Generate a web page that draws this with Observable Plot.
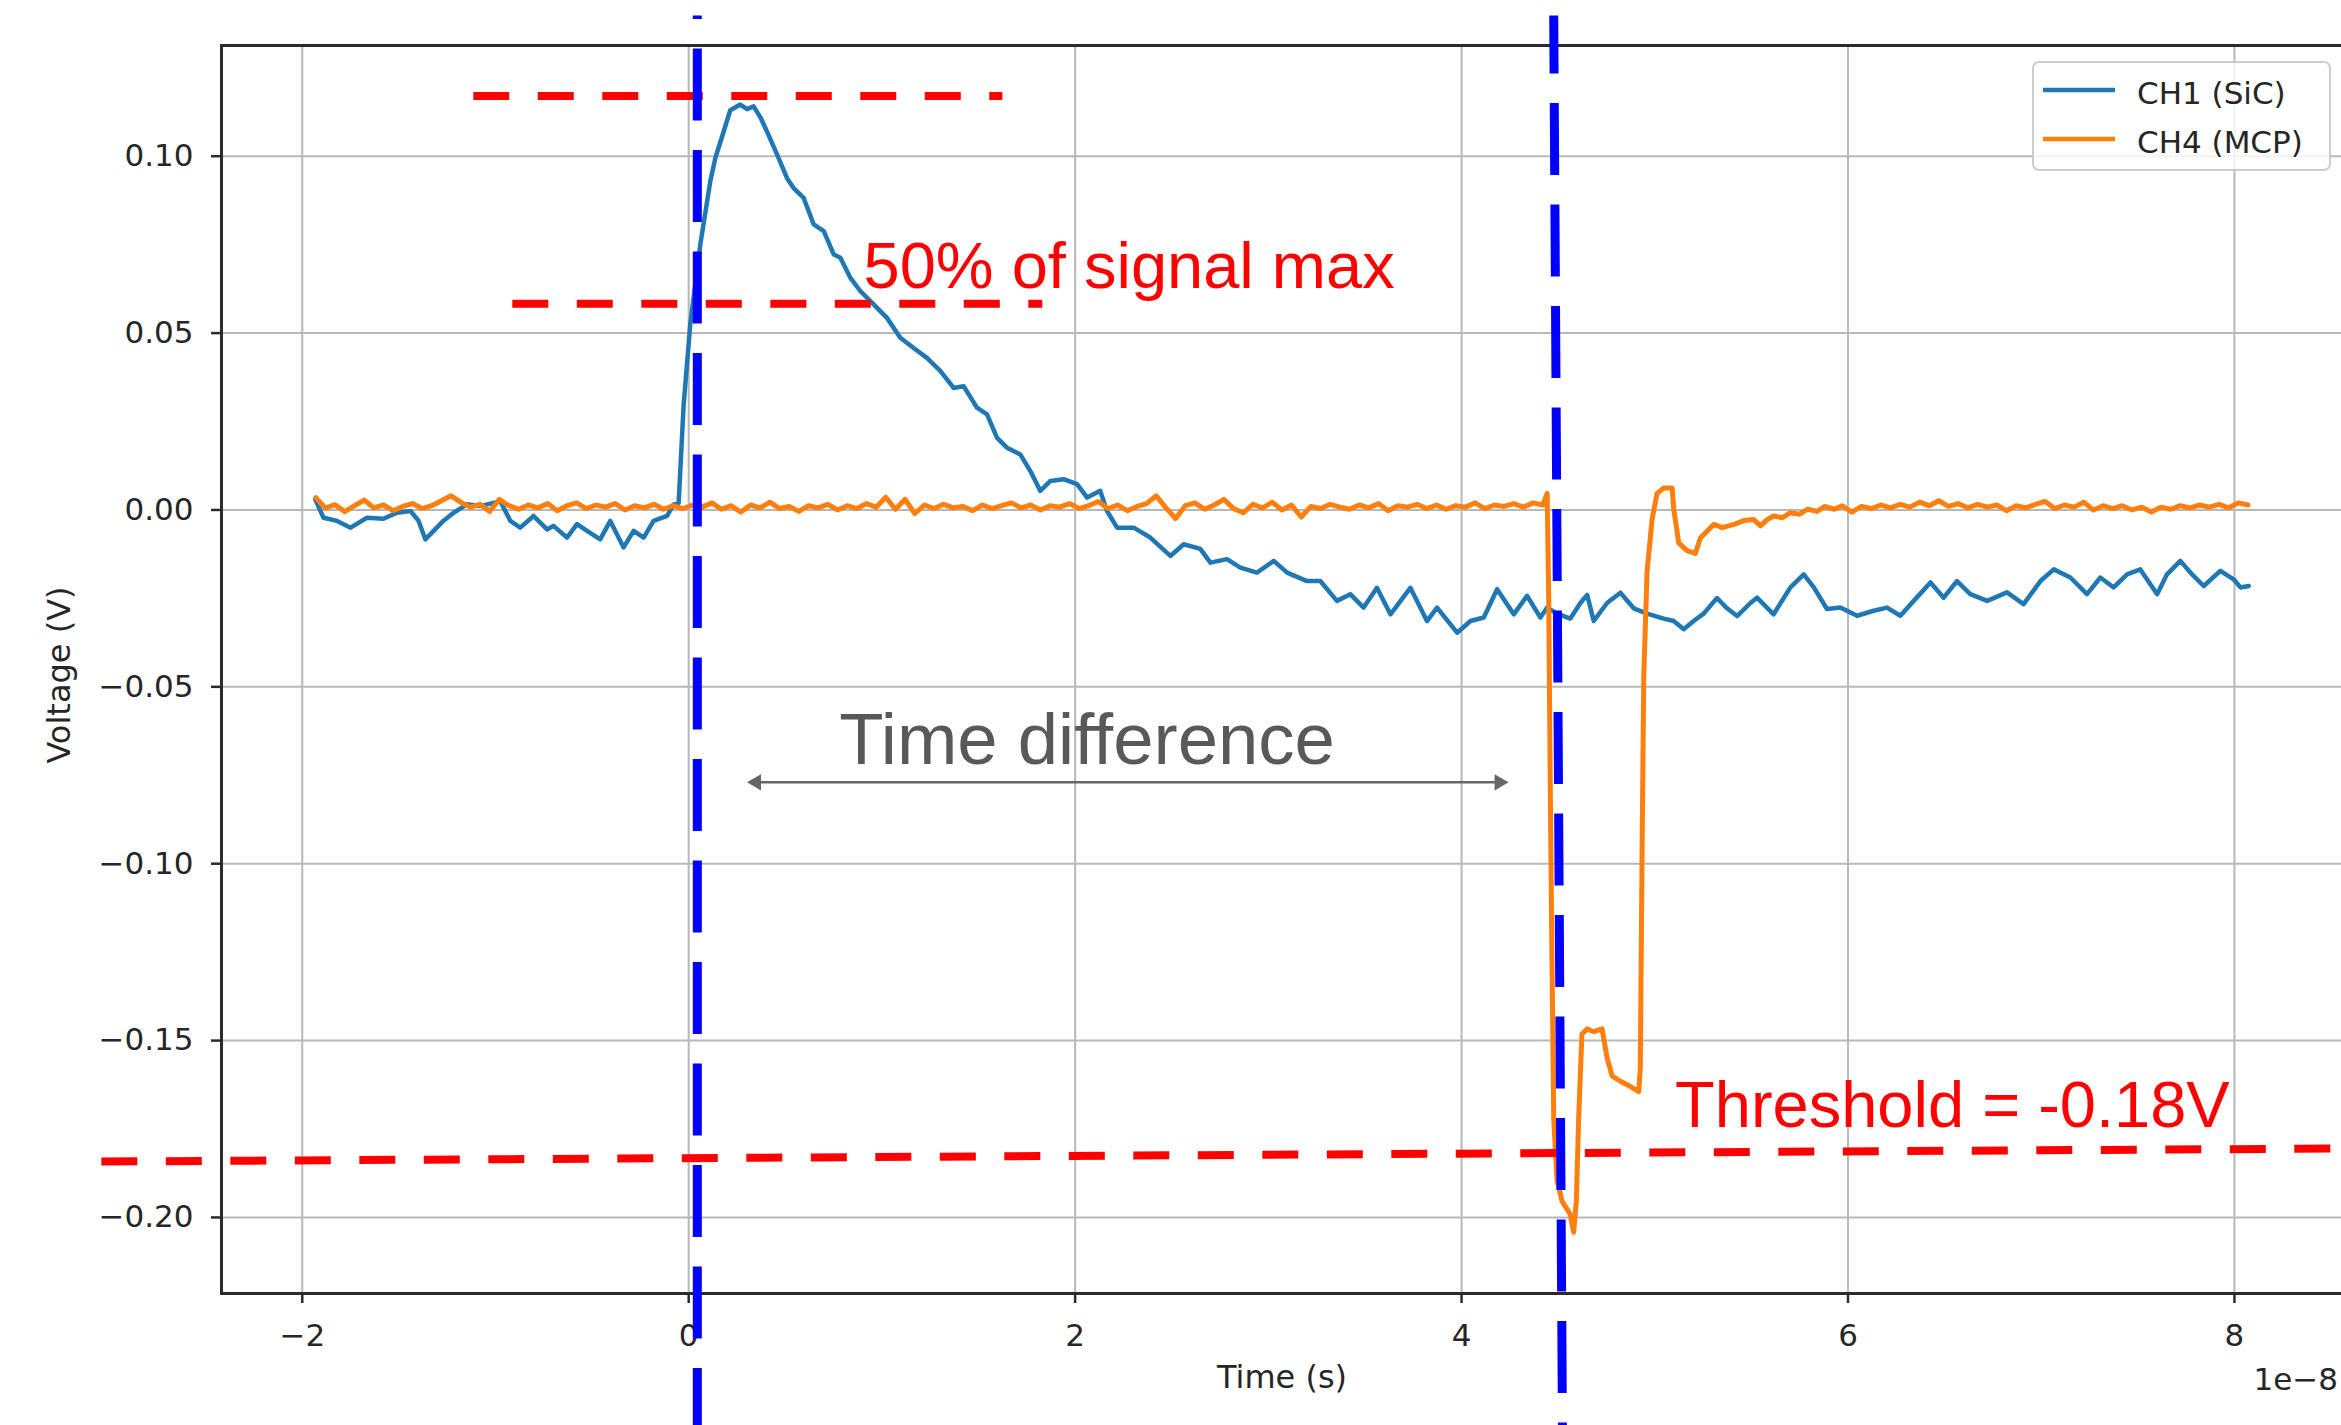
<!DOCTYPE html>
<html><head><meta charset="utf-8">
<script src="https://cdn.jsdelivr.net/npm/d3@7"></script>
<script src="https://cdn.jsdelivr.net/npm/@observablehq/plot@0.6"></script>
<style>
html,body{margin:0;padding:0;background:#fff;overflow:hidden;width:2341px;height:1425px}
#chart svg{display:block}
</style></head><body><div id="chart"></div>
<script>
// ---- data (time in units of 1e-8 s, voltage in V) ----
const seriesNames = ["CH1 (SiC)", "CH4 (MCP)"];
const seriesColors = ["#1f77b4", "#ff7f0e"];
const xTicks = [-2, 0, 2, 4, 6, 8];
const yTicks = [-0.20, -0.15, -0.10, -0.05, 0.00, 0.05, 0.10];

const sicTrace = [
[-1.933,0.003],[-1.89,-0.0022],[-1.82,-0.0031],[-1.75,-0.005],[-1.665,-0.0022],[-1.58,-0.0025],[-1.51,-0.0008],[-1.44,-0.0003],
[-1.398,-0.0031],[-1.363,-0.0083],[-1.32,-0.0059],[-1.27,-0.0031],[-1.217,-0.0008],[-1.148,0.0016],[-1.079,0.0011],[-0.975,0.0025],
[-0.923,-0.0031],[-0.872,-0.005],[-0.803,-0.0017],[-0.733,-0.0055],[-0.70,-0.0045],[-0.63,-0.0078],[-0.578,-0.004],[-0.526,-0.0059],
[-0.458,-0.0083],[-0.406,-0.0031],[-0.337,-0.0106],[-0.285,-0.0059],[-0.233,-0.0078],[-0.182,-0.0031],[-0.112,-0.0017],[-0.078,0.0016],
[-0.052,0.002],[-0.026,0.0299],[0.008,0.0524],[0.06,0.075],[0.112,0.093],[0.138,0.0995],[0.181,0.107],[0.215,0.113],
[0.267,0.1146],[0.302,0.1133],[0.336,0.1141],[0.371,0.111],[0.405,0.107],[0.457,0.1005],[0.509,0.0938],[0.543,0.091],
[0.595,0.0882],[0.647,0.0807],[0.699,0.0788],[0.751,0.0722],[0.785,0.0713],[0.837,0.0656],[0.888,0.0619],[0.957,0.0581],
[1.026,0.0543],[1.095,0.0487],[1.164,0.0458],[1.233,0.043],[1.302,0.0393],[1.371,0.0345],[1.423,0.035],[1.492,0.0289],
[1.544,0.027],[1.596,0.0204],[1.647,0.0176],[1.716,0.0157],[1.768,0.011],[1.82,0.0054],[1.872,0.0082],[1.94,0.0087],
[2.01,0.0073],[2.062,0.0035],[2.13,0.0054],[2.165,-0.0003],[2.217,-0.005],[2.303,-0.005],[2.389,-0.0078],[2.493,-0.013],
[2.562,-0.0097],[2.648,-0.011],[2.70,-0.0149],[2.786,-0.0139],[2.855,-0.0163],[2.941,-0.0177],[3.028,-0.0144],[3.097,-0.0177],
[3.20,-0.0201],[3.269,-0.0201],[3.355,-0.0257],[3.424,-0.0238],[3.493,-0.0276],[3.562,-0.022],[3.632,-0.0295],[3.735,-0.022],
[3.821,-0.0314],[3.873,-0.0276],[3.977,-0.0347],[4.046,-0.0314],[4.115,-0.0304],[4.184,-0.0224],[4.27,-0.0295],[4.339,-0.0243],
[4.408,-0.0304],[4.443,-0.0276],[4.494,-0.0293],[4.563,-0.0307],[4.615,-0.0263],[4.65,-0.024],[4.684,-0.0314],[4.753,-0.0263],
[4.822,-0.0234],[4.891,-0.0278],[4.96,-0.0293],[5.046,-0.0307],[5.098,-0.0314],[5.15,-0.0337],[5.201,-0.0314],[5.253,-0.0293],
[5.322,-0.0249],[5.374,-0.0278],[5.426,-0.03],[5.495,-0.0263],[5.529,-0.0248],[5.615,-0.0295],[5.702,-0.0219],[5.771,-0.0182],
[5.823,-0.0219],[5.891,-0.028],[5.96,-0.0276],[6.047,-0.0299],[6.133,-0.0285],[6.202,-0.0276],[6.271,-0.0299],[6.34,-0.0257],
[6.427,-0.0205],[6.495,-0.0248],[6.564,-0.0201],[6.633,-0.0238],[6.72,-0.0257],[6.823,-0.0233],[6.909,-0.0266],[6.996,-0.0201],
[7.065,-0.0168],[7.151,-0.0191],[7.237,-0.0238],[7.306,-0.0191],[7.375,-0.0219],[7.444,-0.0182],[7.513,-0.0168],[7.6,-0.0238],
[7.651,-0.0182],[7.72,-0.0144],[7.772,-0.0177],[7.841,-0.0215],[7.927,-0.0172],[7.996,-0.0196],[8.031,-0.0219],[8.074,-0.0215]
];

const mcpTrace = [
[-1.93,0.0035],[-1.88,0.0005],[-1.83,0.0015],[-1.78,-0.0005],[-1.73,0.0012],[-1.68,0.0028],[-1.63,0.0006],[-1.58,0.0014],
[-1.53,-0.0002],[-1.48,0.0010],[-1.43,0.0018],[-1.38,0.0004],[-1.33,0.0012],[-1.28,0.0026],[-1.23,0.0040],[-1.18,0.0022],
[-1.13,0.0008],[-1.08,0.0016],[-1.03,-0.0004],[-0.98,0.0030],[-0.93,0.0012],[-0.88,0.0002],[-0.83,0.0014],[-0.78,0.0006],
[-0.73,0.0018],[-0.68,-0.0002],[-0.63,0.0012],[-0.58,0.0020],[-0.53,0.0004],[-0.48,0.0014],[-0.43,0.0008],[-0.38,0.0018],
[-0.33,0.0000],[-0.28,0.0012],[-0.23,0.0006],[-0.18,0.0016],[-0.13,0.0002],[-0.08,0.0012],[-0.03,0.0004],[0.02,0.0014],
[0.07,0.0008],[0.12,0.0020],[0.17,0.0002],[0.22,0.0012],[0.27,-0.0006],[0.32,0.0014],[0.37,0.0006],[0.42,0.0022],
[0.47,0.0004],[0.52,0.0010],[0.57,-0.0004],[0.62,0.0012],[0.67,0.0006],[0.72,0.0016],[0.77,0.0000],[0.82,0.0012],
[0.87,0.0004],[0.92,0.0018],[0.97,0.0008],[1.02,0.0036],[1.07,0.0002],[1.12,0.0030],[1.17,-0.0010],[1.22,0.0014],
[1.27,0.0004],[1.32,0.0016],[1.37,0.0006],[1.42,0.0010],[1.47,-0.0002],[1.52,0.0014],[1.57,0.0004],[1.62,0.0012],
[1.67,0.0020],[1.72,0.0006],[1.77,0.0014],[1.82,0.0000],[1.87,0.0012],[1.92,0.0008],[1.97,0.0018],[2.02,0.0004],
[2.07,0.0012],[2.12,0.0024],[2.17,0.0004],[2.22,0.0014],[2.27,-0.0002],[2.32,0.0010],[2.37,0.0018],[2.42,0.0040],
[2.47,0.0006],[2.52,-0.0024],[2.57,0.0012],[2.62,0.0020],[2.67,0.0002],[2.72,0.0014],[2.77,0.0030],[2.82,0.0004],
[2.87,-0.0008],[2.92,0.0016],[2.97,0.0006],[3.02,0.0022],[3.07,0.0000],[3.12,0.0014],[3.17,-0.0020],[3.22,0.0010],
[3.27,0.0004],[3.32,0.0016],[3.37,0.0008],[3.42,0.0002],[3.47,0.0014],[3.52,0.0006],[3.57,0.0018],[3.62,-0.0002],
[3.67,0.0012],[3.72,0.0008],[3.77,0.0016],[3.82,0.0004],[3.87,0.0014],[3.92,0.0002],[3.97,0.0012],[4.02,0.0008],
[4.07,0.0020],[4.12,0.0004],[4.17,0.0014],[4.22,0.0010],[4.27,0.0018],[4.32,0.0008],[4.37,0.0020],[4.42,0.0014],
[4.443,0.0047],[4.451,-0.0248],[4.46,-0.0839],[4.468,-0.1277],[4.477,-0.172],[4.494,-0.1895],[4.52,-0.1954],[4.563,-0.1992],
[4.58,-0.2042],[4.594,-0.1954],[4.606,-0.172],[4.623,-0.1482],[4.649,-0.1467],[4.684,-0.1475],[4.727,-0.1467],[4.753,-0.1548],
[4.779,-0.16],[4.822,-0.1615],[4.874,-0.163],[4.917,-0.1644],[4.925,-0.1578],[4.934,-0.0987],[4.943,-0.047],[4.96,-0.0175],
[4.986,-0.0027],[5.012,0.0047],[5.046,0.0062],[5.09,0.0062],[5.098,0.0003],[5.124,-0.0093],[5.167,-0.0115],[5.21,-0.0123],
[5.236,-0.0079],[5.305,-0.0041],[5.35,-0.0050],[5.409,-0.0041],[5.46,-0.0030],[5.512,-0.0027],[5.547,-0.0045],[5.58,-0.0028],
[5.615,-0.0017],[5.66,-0.0022],[5.70,-0.0008],[5.75,-0.0012],[5.79,0.0002],[5.84,-0.0004],[5.88,0.0010],[5.93,0.0002],
[5.97,0.0012],[6.02,-0.0006],[6.07,0.0010],[6.12,0.0004],[6.17,0.0014],[6.22,0.0006],[6.27,0.0016],[6.32,0.0008],
[6.37,0.0022],[6.42,0.0012],[6.47,0.0026],[6.52,0.0010],[6.57,0.0018],[6.62,0.0006],[6.67,0.0016],[6.72,0.0008],
[6.77,0.0014],[6.82,-0.0002],[6.87,0.0012],[6.92,0.0006],[6.97,0.0016],[7.02,0.0024],[7.07,0.0004],[7.12,0.0014],
[7.17,0.0008],[7.22,0.0022],[7.27,0.0000],[7.32,0.0012],[7.37,0.0004],[7.42,0.0012],[7.47,0.0000],[7.52,0.0008],
[7.57,-0.0006],[7.62,0.0008],[7.67,0.0002],[7.72,0.0012],[7.77,0.0006],[7.82,0.0014],[7.87,0.0008],[7.92,0.0016],
[7.97,0.0006],[8.02,0.0020],[8.07,0.0014]
];

// ---- overlaid annotations (data units) ----
const redGuides = [
  {x1: -1.115, y1: 0.1170, x2: 1.623, y2: 0.1170},
  {x1: -0.913, y1: 0.0583, x2: 1.830, y2: 0.0583},
  {x1: -3.040, y1: -0.1842, x2: 8.58, y2: -0.1805}
];
const blueGuideLeft = [{x1: 0.0445, y1: 0.1398, x2: 0.0445, y2: -0.2588}];
const blueGuideRight = [{x1: 4.477, y1: 0.1398, x2: 4.522, y2: -0.2588}];
const redNotes = [
  {x: 0.905, y: 0.0627, text: "50% of signal max"},
  {x: 5.105, y: -0.1743, text: "Threshold = -0.18V"}
];
const grayNotes = [{x: 0.779, y: -0.0719, text: "Time difference"}];
const arrowSpan = [{x1: 0.33, x2: 4.215, y: -0.0770}];
const arrowHeads = [{x: 0.35, y: -0.0770, rot: -90}, {x: 4.195, y: -0.0770, rot: 90}];

const W = 2350, H = 1425;
const axisInk = "#2b2b2b", textInk = "#262626";

const plot = Plot.plot({
  width: W, height: H,
  marginLeft: 221, marginRight: 4, marginTop: 45, marginBottom: 132,
  x: {domain: [-2.418, 8.58], label: null},
  y: {domain: [-0.2215, 0.1313], label: null},
  style: {fontFamily: "DejaVu Sans", fontSize: "31px", color: textInk, background: "white", maxWidth: "none"},
  marks: [
    Plot.gridX(xTicks, {stroke: "#b8b8b8", strokeOpacity: 1, strokeWidth: 2}),
    Plot.gridY(yTicks, {stroke: "#b8b8b8", strokeOpacity: 1, strokeWidth: 2}),
    Plot.line(sicTrace, {x: d => d[0], y: d => d[1], stroke: seriesColors[0], strokeWidth: 4.5}),
    Plot.line(mcpTrace, {x: d => d[0], y: d => d[1], stroke: seriesColors[1], strokeWidth: 5}),
    Plot.frame({stroke: axisInk, strokeWidth: 3}),
    Plot.axisX({ticks: xTicks, tickFormat: d3.format(""), tickSize: 10, tickPadding: 20, label: null,
                stroke: axisInk, strokeWidth: 2.5, fill: textInk}),
    Plot.axisY({ticks: yTicks, tickFormat: d3.format(".2f"), tickSize: 10, tickPadding: 18, label: null,
                stroke: axisInk, strokeWidth: 2.5, fill: textInk}),
    // annotations
    Plot.link(redGuides, {x1: "x1", y1: "y1", x2: "x2", y2: "y2", stroke: "#ff0000", strokeWidth: 8,
                          strokeDasharray: "36,28.5", strokeLinecap: "butt"}),
    Plot.link(blueGuideLeft, {x1: "x1", y1: "y1", x2: "x2", y2: "y2", stroke: "#0000ff", strokeWidth: 9,
                          strokeDasharray: "72,29.5", strokeDashoffset: 68.5, strokeLinecap: "butt"}),
    Plot.link(blueGuideRight, {x1: "x1", y1: "y1", x2: "x2", y2: "y2", stroke: "#0000ff", strokeWidth: 9,
                          strokeDasharray: "72,29.5", strokeDashoffset: 14, strokeLinecap: "butt"}),
    Plot.text(redNotes, {x: "x", y: "y", text: "text", textAnchor: "start", lineAnchor: "bottom",
                         fill: "#f00", fontSize: 65, fontFamily: "Liberation Sans, Arial, sans-serif"}),
    Plot.text(grayNotes, {x: "x", y: "y", text: "text", textAnchor: "start", lineAnchor: "bottom",
                         fill: "#595959", fontSize: 72.5, fontFamily: "Liberation Sans, Arial, sans-serif"}),
    Plot.link(arrowSpan, {x1: "x1", x2: "x2", y1: "y", y2: "y", stroke: "#666", strokeWidth: 2.5}),
    Plot.dot(arrowHeads, {x: "x", y: "y", rotate: "rot", symbol: "triangle", r: 6, fill: "#666", stroke: "none"})
  ]
});

const svg = d3.select(plot);
const ff = "DejaVu Sans";
// axis labels
svg.append("text").attr("x", 1282).attr("y", 1388).attr("text-anchor", "middle")
  .attr("font-family", ff).attr("font-size", 32).attr("fill", textInk).text("Time (s)");
svg.append("text").attr("transform", "translate(70,675) rotate(-90)").attr("text-anchor", "middle")
  .attr("font-family", ff).attr("font-size", 32).attr("fill", textInk).text("Voltage (V)");
svg.append("text").attr("x", 2338).attr("y", 1390).attr("text-anchor", "end")
  .attr("font-family", ff).attr("font-size", 31).attr("fill", textInk).text("1e\u22128");
// legend
const lg = svg.append("g");
lg.append("rect").attr("x", 2033).attr("y", 62).attr("width", 297).attr("height", 108).attr("rx", 6)
  .attr("fill", "white").attr("fill-opacity", 0.8).attr("stroke", "#cccccc").attr("stroke-width", 2);
seriesNames.forEach((name, i) => {
  const yy = 90 + 49 * i;
  lg.append("line").attr("x1", 2043).attr("x2", 2115).attr("y1", yy).attr("y2", yy)
    .attr("stroke", seriesColors[i]).attr("stroke-width", 4.5);
  lg.append("text").attr("x", 2137).attr("y", yy + 14).attr("text-anchor", "start")
    .attr("font-family", ff).attr("font-size", 31).attr("fill", textInk).text(name);
});

document.getElementById("chart").appendChild(plot);
</script>
</body></html>
